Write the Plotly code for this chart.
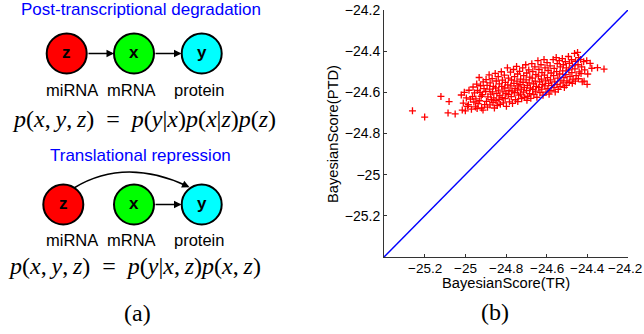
import plotly.graph_objects as go

# ---------------- data ----------------
tr_score = [
    -25.26, -25.20, -25.12, -25.08, -25.085, -25.05, -25.02, -25.015,
    -25.005, -24.995, -25.010, -24.990, -25.000,
    -24.982, -24.975, -24.985, -24.970,
    -24.962, -24.955, -24.965, -24.958, -24.950,
    -24.944, -24.940, -24.948, -24.937, -24.942,
    -24.932, -24.925, -24.928, -24.922, -24.930, -24.920,
    -24.912, -24.908, -24.916, -24.905, -24.913,
    -24.898, -24.893, -24.900, -24.889, -24.896, -24.891,
    -24.883, -24.878, -24.880, -24.875, -24.872, -24.879,
    -24.868, -24.862, -24.866, -24.860, -24.864, -24.857,
    -24.853, -24.848, -24.851, -24.845, -24.849, -24.843,
    -24.838, -24.833, -24.836, -24.830, -24.834, -24.828,
    -24.823, -24.818, -24.821, -24.815, -24.819, -24.813,
    -24.808, -24.803, -24.806, -24.800, -24.804, -24.798,
    -24.793, -24.788, -24.791, -24.785, -24.789, -24.783,
    -24.778, -24.773, -24.776, -24.770, -24.774, -24.768,
    -24.763, -24.758, -24.761, -24.755, -24.759, -24.753,
    -24.748, -24.743, -24.746, -24.740, -24.744, -24.738, -24.742,
    -24.733, -24.728, -24.731, -24.725, -24.729, -24.723,
    -24.718, -24.713, -24.716, -24.710, -24.714, -24.708,
    -24.703, -24.698, -24.701, -24.695, -24.699, -24.693, -24.697,
    -24.688, -24.683, -24.686, -24.680, -24.684, -24.678,
    -24.673, -24.668, -24.671, -24.665, -24.669, -24.663,
    -24.658, -24.653, -24.656, -24.650, -24.654, -24.648,
    -24.643, -24.638, -24.641, -24.635, -24.639, -24.633,
    -24.628, -24.623, -24.626, -24.620, -24.624, -24.618,
    -24.613, -24.608, -24.611, -24.605, -24.609, -24.603,
    -24.598, -24.593, -24.596, -24.590, -24.594, -24.588,
    -24.583, -24.578, -24.581, -24.575, -24.579,
    -24.568, -24.563, -24.566, -24.560, -24.564, -24.558,
    -24.553, -24.548, -24.551, -24.545, -24.549, -24.543,
    -24.538, -24.533, -24.536, -24.530, -24.534,
    -24.523, -24.518, -24.521, -24.515, -24.519, -24.513,
    -24.508, -24.503, -24.506, -24.500, -24.504,
    -24.493, -24.488, -24.491, -24.485, -24.489,
    -24.478, -24.473, -24.476, -24.470, -24.474,
    -24.463, -24.458, -24.461, -24.455, -24.459,
    -24.448, -24.443, -24.446, -24.440, -24.444,
    -24.433, -24.428, -24.431, -24.425,
    -24.418, -24.413, -24.416,
    -24.403, -24.398, -24.401,
    -24.386, -24.378, -24.350, -24.318,
]

ptd_score = [
    -24.69, -24.72, -24.62, -24.645, -24.70, -24.705, -24.613, -24.686,
    -24.600, -24.627, -24.652, -24.668, -24.690,
    -24.590, -24.633, -24.660, -24.682,
    -24.574, -24.603, -24.621, -24.647, -24.671,
    -24.560, -24.591, -24.632, -24.655, -24.679,
    -24.528, -24.568, -24.600, -24.619, -24.641, -24.676,
    -24.549, -24.582, -24.611, -24.660, -24.686,
    -24.538, -24.566, -24.596, -24.622, -24.644, -24.672,
    -24.515, -24.554, -24.584, -24.609, -24.636, -24.661,
    -24.533, -24.571, -24.598, -24.627, -24.650, -24.676,
    -24.508, -24.545, -24.579, -24.606, -24.641, -24.664,
    -24.524, -24.559, -24.589, -24.616, -24.634, -24.658,
    -24.500, -24.541, -24.571, -24.598, -24.626, -24.651,
    -24.516, -24.552, -24.579, -24.606, -24.630, -24.668,
    -24.481, -24.531, -24.564, -24.591, -24.611, -24.646,
    -24.502, -24.540, -24.569, -24.594, -24.621, -24.654,
    -24.489, -24.524, -24.556, -24.581, -24.602, -24.636,
    -24.474, -24.511, -24.546, -24.569, -24.589, -24.614, -24.645,
    -24.498, -24.536, -24.561, -24.584, -24.609, -24.631,
    -24.481, -24.519, -24.551, -24.576, -24.599, -24.624,
    -24.466, -24.506, -24.539, -24.566, -24.591, -24.619, -24.639,
    -24.491, -24.526, -24.554, -24.579, -24.606, -24.629,
    -24.461, -24.499, -24.531, -24.559, -24.586, -24.611,
    -24.476, -24.514, -24.546, -24.571, -24.594, -24.624,
    -24.446, -24.489, -24.521, -24.549, -24.576, -24.601,
    -24.466, -24.504, -24.536, -24.561, -24.584, -24.614,
    -24.441, -24.481, -24.516, -24.544, -24.569, -24.599,
    -24.456, -24.494, -24.529, -24.556, -24.581, -24.609,
    -24.471, -24.506, -24.539, -24.566, -24.591,
    -24.441, -24.484, -24.519, -24.549, -24.576, -24.598,
    -24.431, -24.461, -24.499, -24.531, -24.561, -24.586,
    -24.446, -24.476, -24.511, -24.544, -24.571,
    -24.436, -24.466, -24.496, -24.529, -24.554, -24.576,
    -24.451, -24.481, -24.514, -24.544, -24.566,
    -24.426, -24.459, -24.491, -24.524, -24.551,
    -24.441, -24.471, -24.504, -24.536, -24.556,
    -24.411, -24.449, -24.486, -24.519, -24.546,
    -24.406, -24.431, -24.466, -24.501, -24.534,
    -24.441, -24.476, -24.509, -24.549,
    -24.451, -24.491, -24.546,
    -24.446, -24.511, -24.561,
    -24.459, -24.483, -24.480, -24.487,
]

diagonal = [-25.4, -24.2]
axis_range = [-25.4, -24.2]
tick_vals = [-25.2, -25.0, -24.8, -24.6, -24.4, -24.2]
tick_text = ["\u221225.2", "\u221225", "\u221224.8", "\u221224.6", "\u221224.4", "\u221224.2"]

x_title = "BayesianScore(TR)"
y_title = "BayesianScore(PTD)"

node_names = ["z", "x", "y"]
node_labels = ["miRNA", "mRNA", "protein"]
node_colors = ["#ff0000", "#00ff00", "#00ffff"]

# ---------------- figure ----------------
W, H = 644, 334
SANS = "Liberation Sans, Arial, sans-serif"
SERIF = "Liberation Serif, Times New Roman, serif"

fig = go.Figure()

fig.add_trace(go.Scatter(
    x=tr_score, y=ptd_score, mode="markers",
    marker=dict(symbol="cross-thin", size=5, color="red",
                line=dict(color="red", width=1.3)),
    hoverinfo="skip", showlegend=False,
))
fig.add_trace(go.Scatter(
    x=diagonal, y=diagonal, mode="lines",
    line=dict(color="#0000ff", width=1.5),
    hoverinfo="skip", showlegend=False,
))

axis_common = dict(
    range=axis_range, tickvals=tick_vals, ticktext=tick_text,
    ticks="inside", ticklen=3, tickwidth=1, tickcolor="#333",
    showline=True, linecolor="#333", linewidth=1,
    showgrid=False, zeroline=False, automargin=False,
    tickfont=dict(family=SANS, size=14, color="black"),
)

fig.update_layout(
    width=W, height=H,
    margin=dict(l=0, r=0, t=0, b=0, pad=0, autoexpand=False),
    paper_bgcolor="white", plot_bgcolor="rgba(0,0,0,0)",
    # x tick labels are written as annotations so the last one stays inside the page
    xaxis=dict(domain=[384 / W, 628 / W], anchor="y", showticklabels=False, **axis_common),
    yaxis=dict(domain=[77 / H, 324 / H], anchor="x", **axis_common),
)

# the diagram is laid out in pixel units of the page (origin top-left)
def px(x):
    return x / W

def py(y):
    return 1 - y / H

shapes = []
annotations = []

for tv, tt in zip(tick_vals, tick_text):
    annotations.append(dict(xref="x", yref="paper", x=tv, y=py(268), text=tt,
                            showarrow=False, xanchor="center", yanchor="middle",
                            xshift=-3 if tv == tick_vals[-1] else 0,
                            font=dict(family=SANS, size=13.5, color="black")))

def diagram_row(cxs, cy):
    for name, color, cx in zip(node_names, node_colors, cxs):
        shapes.append(dict(type="circle", xref="paper", yref="paper",
                           x0=px(cx - 20), x1=px(cx + 20), y0=py(cy + 20), y1=py(cy - 20),
                           fillcolor=color, line=dict(color="black", width=2)))
        annotations.append(dict(xref="paper", yref="paper", x=px(cx), y=py(cy - 1),
                                text="<b>%s</b>" % name,
                                showarrow=False, font=dict(family=SANS, size=17, color="black"),
                                xanchor="center", yanchor="middle"))

diagram_row([66.7, 134, 201.7], 53.5)
diagram_row([63.3, 134, 201.7], 204.5)

label_x = [72, 131, 199]
for lx, lab in zip(label_x, node_labels):
    for ly in (90, 240):
        annotations.append(dict(xref="paper", yref="paper", x=px(lx), y=py(ly), text=lab,
                                showarrow=False,
                                font=dict(family=SANS, size=16.5, color="black"),
                                xanchor="center", yanchor="middle"))

def arrow(x0, y0, x1, y1):
    annotations.append(dict(xref="paper", yref="paper", axref="pixel", ayref="pixel",
                            x=px(x1), y=py(y1), ax=x0 - x1, ay=y0 - y1, text="", showarrow=True,
                            arrowhead=2, arrowsize=1, arrowwidth=1.5, arrowcolor="black",
                            standoff=0, startstandoff=0))

arrow(87, 53.5, 114, 53.5)
arrow(154, 53.5, 181.5, 53.5)
arrow(154, 204.5, 181.5, 204.5)
# curved arrow z -> y (bottom row)
p0, c, p2 = (74, 188), (125, 157), (188, 186.5)
shapes.append(dict(type="path", xref="paper", yref="paper",
                   path="M %.5f,%.5f Q %.5f,%.5f %.5f,%.5f" % (px(p0[0]), py(p0[1]),
                                                              px(c[0]), py(c[1]),
                                                              px(p2[0]), py(p2[1])),
                   line=dict(color="black", width=1.5)))
arrow(181, 183.3, 189.5, 187.2)

annotations.append(dict(xref="paper", yref="paper", x=px(140.5), y=py(9.5),
                        text="Post-transcriptional degradation", borderpad=0,
                        showarrow=False, font=dict(family=SANS, size=17, color="#0000ff"),
                        xanchor="center", yanchor="middle"))
annotations.append(dict(xref="paper", yref="paper", x=px(140.5), y=py(155.5),
                        text="Translational repression",
                        showarrow=False, font=dict(family=SANS, size=17, color="#0000ff"),
                        xanchor="center", yanchor="middle"))

eq1 = ("<i>p</i>(<i>x</i>,\u2009<i>y</i>,\u2009<i>z</i>)\u2002=\u2002<i>p</i>(<i>y</i>|<i>x</i>)"
       "<i>p</i>(<i>x</i>|<i>z</i>)<i>p</i>(<i>z</i>)")
eq2 = ("<i>p</i>(<i>x</i>,\u2009<i>y</i>,\u2009<i>z</i>)\u2002=\u2002<i>p</i>(<i>y</i>|<i>x</i>,\u2009<i>z</i>)"
       "<i>p</i>(<i>x</i>,\u2009<i>z</i>)")
annotations.append(dict(xref="paper", yref="paper", x=px(144), y=py(119), text=eq1,
                        showarrow=False, font=dict(family=SERIF, size=24, color="black"),
                        xanchor="center", yanchor="middle"))
annotations.append(dict(xref="paper", yref="paper", x=px(134), y=py(266), text=eq2,
                        showarrow=False, font=dict(family=SERIF, size=24, color="black"),
                        xanchor="center", yanchor="middle"))

annotations.append(dict(xref="paper", yref="paper", x=px(137), y=py(313), text="(a)",
                        showarrow=False, font=dict(family=SERIF, size=24, color="black"),
                        xanchor="center", yanchor="middle"))
annotations.append(dict(xref="paper", yref="paper", x=px(495), y=py(312), text="(b)",
                        showarrow=False, font=dict(family=SERIF, size=24, color="black"),
                        xanchor="center", yanchor="middle"))

annotations.append(dict(xref="paper", yref="paper", x=px(506), y=py(283), text=x_title,
                        showarrow=False, font=dict(family=SANS, size=14.7, color="black"),
                        xanchor="center", yanchor="middle"))
annotations.append(dict(xref="paper", yref="paper", x=px(333), y=py(134), text=y_title,
                        textangle=-90, showarrow=False,
                        font=dict(family=SANS, size=14.7, color="black"),
                        xanchor="center", yanchor="middle"))

fig.update_layout(shapes=shapes, annotations=annotations)

fig.write_html("out.html", post_script="document.body.style.margin='0px';",
               config={"displayModeBar": False})
